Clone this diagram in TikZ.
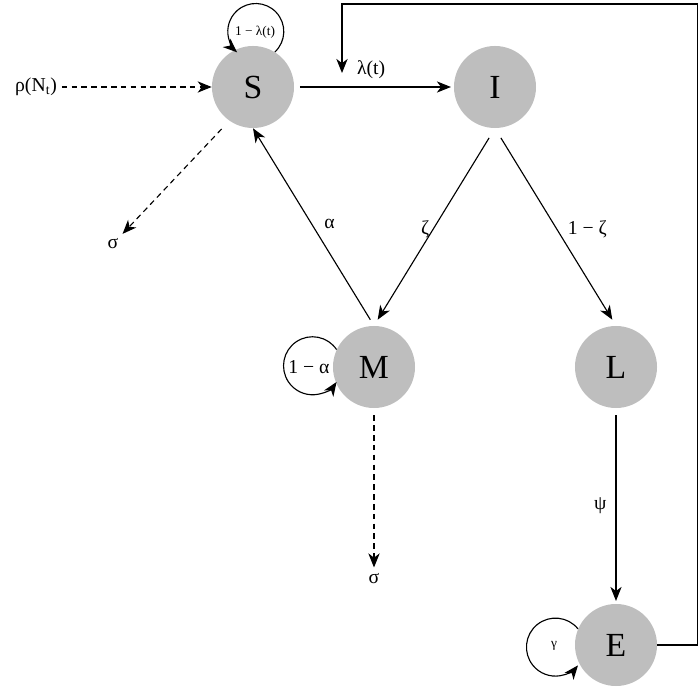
\documentclass[tikz,border=0pt]{standalone}
\usepackage{fontspec}
\setmainfont{Liberation Serif}
\usepackage{tikz}
\usetikzlibrary{arrows.meta}
\usepackage{xcolor}
\definecolor{stategray}{RGB}{190,190,190}

\begin{document}
\begin{tikzpicture}[x=0.025cm, y=-0.025cm,
  state/.style={circle, fill=stategray, minimum size=2.05cm, inner sep=0pt, font=\fontsize{24}{26}\selectfont},
  lbl/.style={font=\fontsize{14}{16}\selectfont},
  tiny/.style={font=\fontsize{9.5}{11}\selectfont},
  flow/.style={-{Stealth[length=10pt, width=8pt, inset=3pt]}, line width=0.8pt},
  leak/.style={flow, dash pattern=on 4pt off 3pt}]
\useasboundingbox (0,0) rectangle (700,689);
\node[state] (S) at (253,87) {S};
\node[state] (I) at (495,87) {I};
\node[state] (M) at (374,367) {M};
\node[state] (L) at (616,367) {L};
\node[state] (E) at (616,645) {E};
\node[lbl] (rho) at (36,87) {ρ(N\textsubscript{t})};
\node[lbl] (sig1) at (113,244) {σ};
\node[lbl] (sig2) at (374,579) {σ};
\coordinate (lamin) at (342,73);
\draw[flow, shorten <=4pt, shorten >=2pt] (S) -- (I) node[midway, above, lbl, yshift=2pt, xshift=-2pt] {λ(t)};
\draw[flow, shorten <=8pt, shorten >=5pt] (I.south) -- (M.north) node[midway, left, lbl, yshift=-2pt] {ζ};
\draw[flow, shorten <=8pt, shorten >=5pt] (I.south) -- (L.north) node[midway, right, lbl, yshift=-2pt, xshift=5pt] {1 − ζ};
\draw[flow, shorten <=5pt] (M.north) -- (S.south) node[midway, right, lbl, yshift=2pt, xshift=4pt] {α};
\draw[flow, shorten <=5pt, shorten >=2pt] (L) -- (E) node[midway, left, lbl, xshift=-3pt] {ψ};
\draw[flow] (E.east) -- ++(40,0) |- (lamin |- 0,4) -- (lamin);
% entries and deaths
\draw[leak] (rho) -- (S);
\draw[leak, shorten <=8pt] (S.235) -- (sig1);
\draw[leak, shorten <=5pt, shorten >=1pt] (M) -- (sig2);
% staying put
\draw[flow] (S.58) arc[start angle=47, end angle=-228, radius=28];
\node[tiny] (Sloop) at (255,32) {1 − λ(t)};
\draw[flow] (M.155) arc[start angle=-34, end angle=-326, radius=29];
\node[lbl] (Mloop) at (309,367) {1 − α};
\draw[flow] (E.157) arc[start angle=-39, end angle=-321, radius=29];
\node[tiny] (Eloop) at (554,646) {γ};
\end{tikzpicture}
\end{document}
